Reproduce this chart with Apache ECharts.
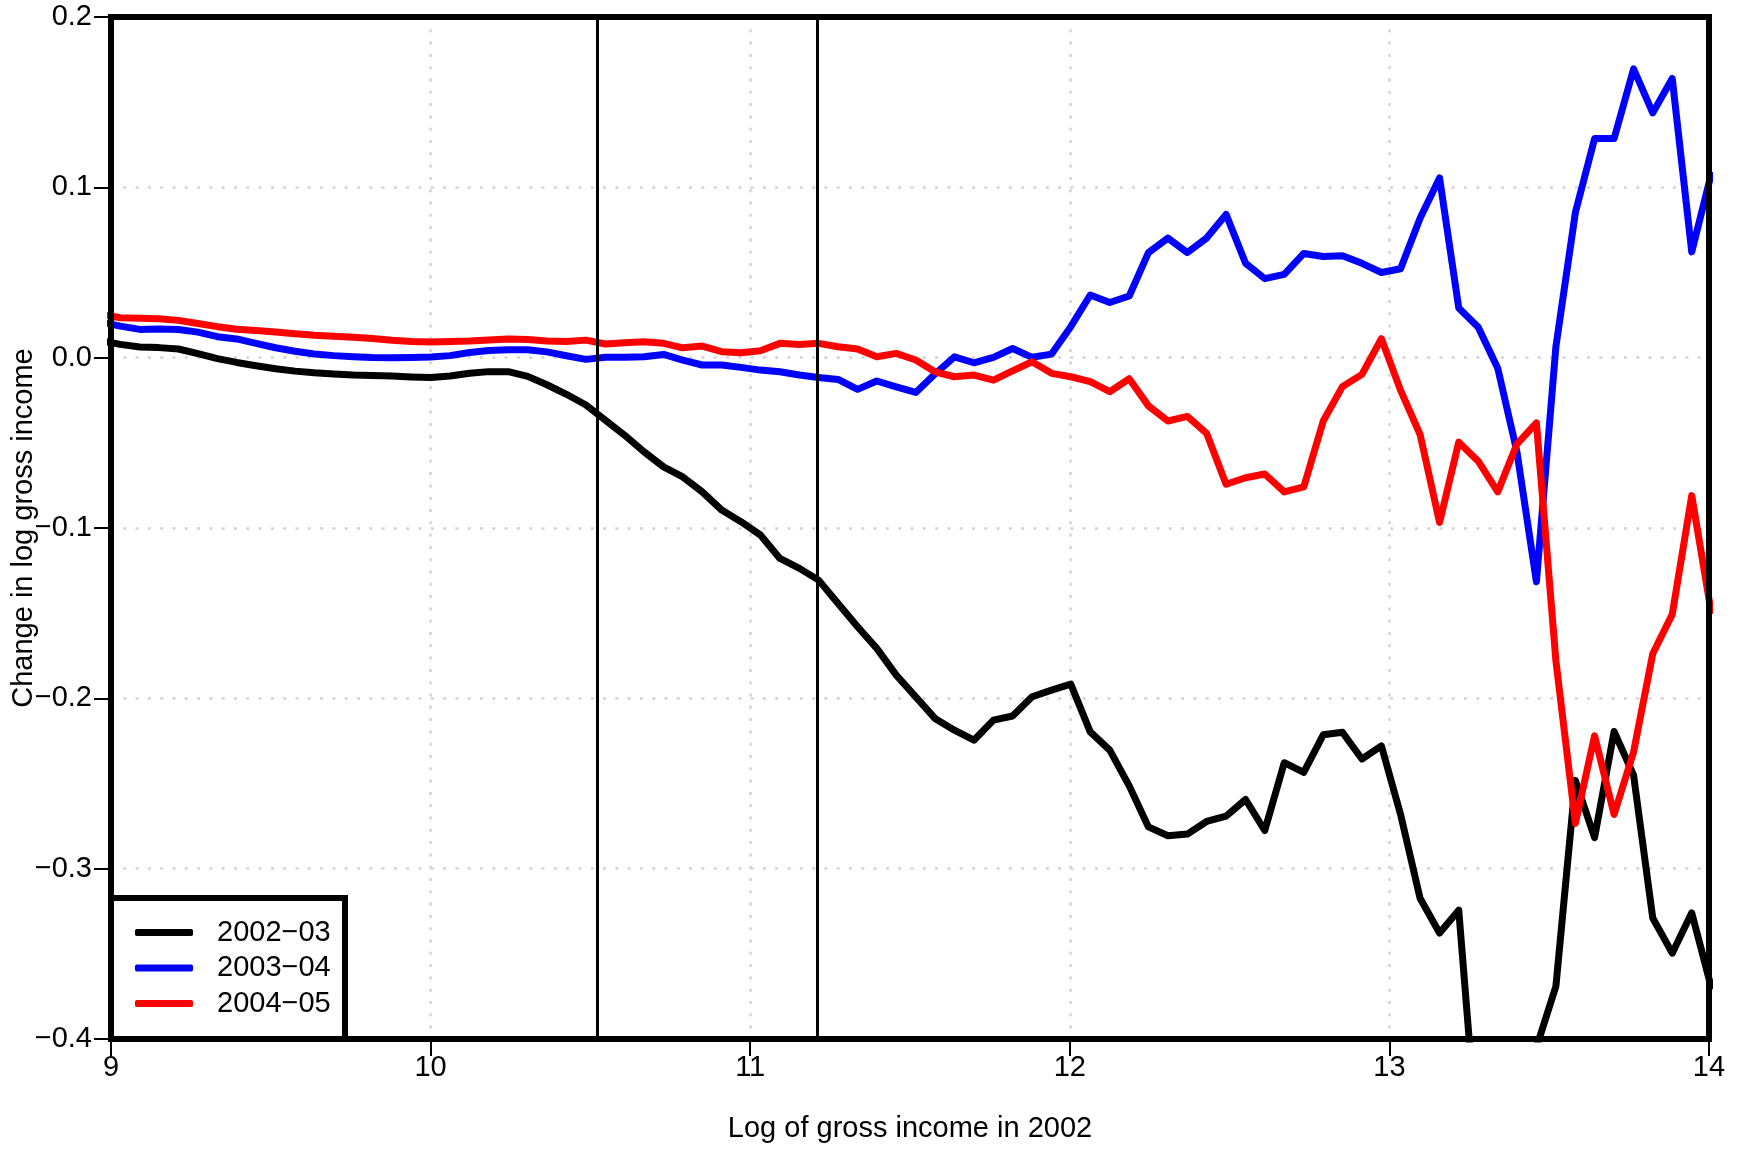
<!DOCTYPE html>
<html>
<head>
<meta charset="utf-8">
<script src="https://cdn.jsdelivr.net/npm/echarts@6/dist/echarts.min.js"></script>
<style>
  html, body { margin: 0; padding: 0; background: #fff; }
  #chart { width: 1742px; height: 1150px; }
</style>
</head>
<body>
<div id="chart"></div>
<script>
// log gross income in 2002 (bin positions)
const incomeX = [8.968, 9.029, 9.090, 9.150, 9.211, 9.272, 9.333, 9.393, 9.454, 9.515,
  9.576, 9.636, 9.697, 9.758, 9.818, 9.879, 9.940, 10.001, 10.061, 10.122,
  10.182, 10.243, 10.304, 10.364, 10.425, 10.486, 10.547, 10.607, 10.668, 10.729,
  10.789, 10.850, 10.911, 10.971, 11.032, 11.093, 11.154, 11.214, 11.275, 11.336,
  11.396, 11.457, 11.518, 11.578, 11.639, 11.700, 11.761, 11.821, 11.882, 11.943,
  12.003, 12.064, 12.125, 12.186, 12.246, 12.307, 12.368, 12.428, 12.489, 12.550,
  12.610, 12.671, 12.732, 12.793, 12.853, 12.914, 12.975, 13.035, 13.096, 13.157,
  13.217, 13.278, 13.339, 13.399, 13.460, 13.521, 13.582, 13.642, 13.703, 13.764,
  13.824, 13.885, 13.946, 14.006];

const chg0203 = [0.010, 0.0078, 0.0063, 0.0059, 0.0051, 0.0024, -0.0006, -0.0028, -0.0047, -0.0065,
  -0.0079, -0.0089, -0.0096, -0.0102, -0.0105, -0.0108, -0.0113, -0.0116, -0.0108, -0.0092,
  -0.0082, -0.0082, -0.0110, -0.0159, -0.0215, -0.0278, -0.0367, -0.0455, -0.0553, -0.0641,
  -0.0700, -0.0788, -0.0895, -0.0963, -0.1041, -0.1179, -0.1237, -0.1306, -0.1443, -0.1580,
  -0.1707, -0.1864, -0.1991, -0.2118, -0.2187, -0.2246, -0.2128, -0.2104, -0.1991, -0.1952,
  -0.1917, -0.2197, -0.2304, -0.2514, -0.2755, -0.2807, -0.2797, -0.2723, -0.2692, -0.2594,
  -0.2776, -0.2378, -0.2435, -0.2214, -0.2199, -0.2356, -0.2279, -0.2682, -0.3174, -0.3378,
  -0.3244, -0.466, -0.49, -0.47, -0.405, -0.369, -0.2483, -0.2818, -0.2195, -0.2451,
  -0.3290, -0.3496, -0.3259, -0.369];

const chg0304 = [0.021, 0.0185, 0.0166, 0.0168, 0.0165, 0.0150, 0.0123, 0.0110, 0.0084, 0.0058,
  0.0038, 0.0022, 0.0012, 0.0006, 0.0001, -0.0001, 0.0001, 0.0004, 0.0012, 0.0030,
  0.0042, 0.0047, 0.0046, 0.0034, 0.0011, -0.0010, 0.0002, 0.0002, 0.0005, 0.0019,
  -0.0014, -0.0043, -0.0043, -0.0057, -0.0073, -0.0083, -0.0102, -0.0116, -0.0128, -0.0186,
  -0.0137, -0.0171, -0.0204, -0.0096, 0.0005, -0.0030, 0.0002, 0.0054, 0.0002, 0.0021,
  0.0182, 0.0368, 0.0324, 0.0362, 0.0617, 0.0702, 0.0617, 0.0702, 0.0841, 0.0554,
  0.0464, 0.0489, 0.0612, 0.0594, 0.0599, 0.0554, 0.0500, 0.0522, 0.0819, 0.1055,
  0.0291, 0.0179, -0.0062, -0.0552, -0.1316, 0.0066, 0.0853, 0.1286, 0.1286, 0.1695,
  0.1437, 0.1639, 0.0621, 0.1071];

const chg0405 = [0.0255, 0.0234, 0.0231, 0.0229, 0.0219, 0.0201, 0.0182, 0.0167, 0.0159, 0.0151,
  0.0140, 0.0131, 0.0126, 0.0120, 0.0112, 0.0102, 0.0095, 0.0092, 0.0095, 0.0098,
  0.0104, 0.0110, 0.0106, 0.0098, 0.0095, 0.0103, 0.0080, 0.0088, 0.0094, 0.0084,
  0.0058, 0.0068, 0.0035, 0.0029, 0.0041, 0.0084, 0.0078, 0.0084, 0.0064, 0.0051,
  0.0005, 0.0025, -0.0014, -0.0083, -0.0112, -0.0102, -0.0132, -0.0077, -0.0024, -0.0092,
  -0.0112, -0.0141, -0.0200, -0.0124, -0.0283, -0.0372, -0.0345, -0.0444, -0.0743, -0.0705,
  -0.0683, -0.0788, -0.0759, -0.0372, -0.0170, -0.0098, 0.0111, -0.0192, -0.0451, -0.0968,
  -0.0496, -0.0608, -0.0788, -0.0507, -0.0383, -0.178, -0.2734, -0.222, -0.2682, -0.2315,
  -0.1738, -0.1507, -0.081, -0.1486];

const seriesNames = ['2002\u221203', '2003\u221204', '2004\u221205'];
const seriesColors = ['#000000', '#0000ff', '#ff0000'];
const thresholds = [10.52, 11.21];

const FONT = '"Liberation Sans", Arial, Helvetica, sans-serif';

let pairs = (ys) => incomeX.map((x, i) => [x, ys[i]]);

let minusFmt = (v) => {
  let s = Math.abs(v).toFixed(1);
  return (v < -1e-9 ? '\u2212' : '') + s;
};

let lineSeries = (name, ys, color, extra) => Object.assign({
  name: name,
  type: 'line',
  data: pairs(ys),
  showSymbol: false,
  symbol: 'none',
  clip: true,
  silent: true,
  lineStyle: { color: color, width: 7, cap: 'round', join: 'round' },
  itemStyle: { color: color }
}, extra || {});

var chart = echarts.init(document.getElementById('chart'));
option = {
  animation: false,
  backgroundColor: '#fff',
  textStyle: { fontFamily: FONT },
  grid: {
    left: 111, top: 17, right: 33, bottom: 111,
    show: false
  },
  xAxis: {
    type: 'value',
    min: 9, max: 14, interval: 1,
    axisLine: { show: false, onZero: false },
    axisTick: { show: true, length: 17, lineStyle: { color: '#000', width: 2 } },
    axisLabel: { color: '#000', fontSize: 29, fontFamily: FONT, margin: 14 },
    splitLine: { show: true, lineStyle: { color: '#d3d3d3', width: 2.5, type: [3, 9.3] } }
  },
  yAxis: {
    type: 'value',
    min: -0.4, max: 0.2, interval: 0.1,
    axisLine: { show: false, onZero: false },
    axisTick: { show: true, length: 17, lineStyle: { color: '#000', width: 2 } },
    axisLabel: { color: '#000', fontSize: 29, fontFamily: FONT, margin: 19, formatter: minusFmt },
    splitLine: { show: true, lineStyle: { color: '#d3d3d3', width: 2.5, type: [3, 9.3] } }
  },
  legend: {
    show: true,
    data: seriesNames,
    orient: 'vertical',
    left: 135,
    top: 915,
    padding: 0,
    itemGap: 0.5,
    itemWidth: 58,
    itemHeight: 7,
    icon: 'roundRect',
    selectedMode: false,
    z: 10,
    textStyle: { color: '#000', fontSize: 29, fontFamily: FONT, lineHeight: 35, padding: [0, 0, 0, 19] }
  },
  graphic: [
    {
      // plot frame
      type: 'rect', z: 6,
      shape: { x: 111, y: 17, width: 1598, height: 1022 },
      style: { fill: null, stroke: '#000', lineWidth: 6 }
    },
    {
      // legend box
      type: 'rect', z: 7,
      shape: { x: 111, y: 898, width: 234, height: 141 },
      style: { fill: '#fff', stroke: '#000', lineWidth: 6 }
    },
    {
      type: 'text', x: 24, y: 528, rotation: Math.PI / 2,
      style: { text: 'Change in log gross income', font: '29px ' + FONT, fill: '#000', align: 'center', verticalAlign: 'middle' }
    },
    {
      type: 'text', x: 910, y: 1129,
      style: { text: 'Log of gross income in 2002', font: '29px ' + FONT, fill: '#000', align: 'center', verticalAlign: 'middle' }
    }
  ],
  series: [
    lineSeries(seriesNames[0], chg0203, seriesColors[0], {
      markLine: {
        silent: true,
        symbol: ['none', 'none'],
        label: { show: false },
        lineStyle: { color: '#000', width: 3, type: 'solid' },
        data: thresholds.map(t => ({ xAxis: t }))
      }
    }),
    lineSeries(seriesNames[1], chg0304, seriesColors[1]),
    lineSeries(seriesNames[2], chg0405, seriesColors[2])
  ]
};
chart.setOption(option);
</script>
</body>
</html>
